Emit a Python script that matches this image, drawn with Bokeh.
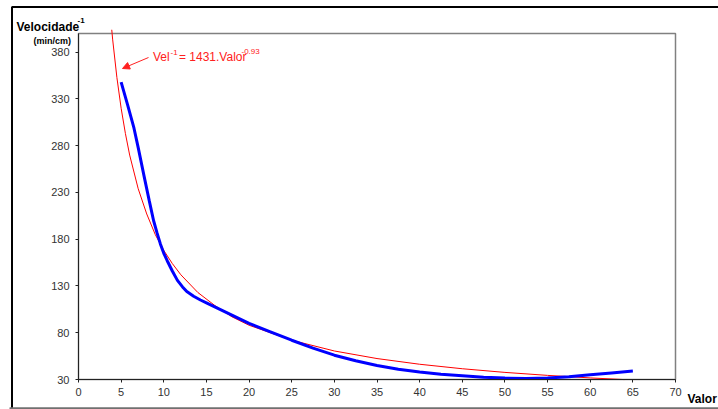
from bokeh.plotting import figure
from bokeh.models import Range1d, Label, Arrow, NormalHead, BoxAnnotation, FixedTicker, LinearAxis
from bokeh.embed import file_html
from bokeh.resources import INLINE

# Observed data (blue)
valor_obs = [5, 5.75, 6.5, 7, 7.7, 8.3, 8.8, 9.2, 9.6, 10, 10.4, 11, 11.6, 12.2, 12.7, 13.5, 14.3, 15,
             17.5, 20, 22.5, 25, 27.5, 30, 32.5, 35, 37.5, 40, 42.5, 45, 47.5, 50, 52.5, 55, 57.5, 60, 62.5, 65]
vel_obs = [348, 324, 299, 278, 247, 221, 200, 187, 175, 165, 157, 146, 136, 129, 124, 119, 115, 112,
           101, 90, 81, 72, 63.5, 56, 50, 45, 41, 38, 35.5, 34, 32.5, 31.5, 31, 31.5, 33, 35, 37, 39]

# Trend line (red)
valor_fit = [3.9, 4, 4.5, 5, 5.5, 6, 7, 8, 9, 10, 11, 12, 14, 16, 18, 20, 25, 30, 35, 40, 45, 50, 55, 60, 64]
vel_fit = [404, 394, 353, 320, 293, 270, 234, 207, 185, 168, 154, 142, 123, 109, 97, 88, 72, 60.5, 52.4, 46.3, 41.5, 37.6, 34.4, 31.7, 29.9]

x_ticks = list(range(0, 75, 5))
y_ticks = [30, 80, 130, 180, 230, 280, 330, 380]

X0, X1 = 0, 70      # plotted x extent
Y0, Y1 = 30, 400    # plotted y extent

W, H = 718, 409
# picture pixel positions of the inner plot area
PL, PR, PT, PB = 78, 675, 33, 379
SX = (PR - PL) / (X1 - X0)
SY = (PB - PT) / (Y1 - Y0)

def dx(px):
    return X0 + (px - PL) / SX

def dy(py):
    return Y0 + (PB - py) / SY

BL, BT = 9, 4  # canvas borders; frame covers the rest

p = figure(width=W, height=H, output_backend="svg", toolbar_location=None,
           x_range=Range1d(dx(BL), dx(W)), y_range=Range1d(dy(H), dy(BT)),
           x_axis_location=None, y_axis_location=None,
           min_border_left=BL, min_border_right=0, min_border_top=BT, min_border_bottom=0)
p.background_fill_color = "white"
p.border_fill_color = "white"
p.outline_line_color = None
p.xgrid.visible = False
p.ygrid.visible = False

xaxis = LinearAxis(fixed_location=Y0, bounds=(X0, X1), ticker=FixedTicker(ticks=x_ticks))
yaxis = LinearAxis(fixed_location=X0, bounds=(Y0, Y1), ticker=FixedTicker(ticks=y_ticks))
p.add_layout(xaxis, "below")
p.add_layout(yaxis, "left")

tick_font = "Liberation Sans Narrow, Arial Narrow, Liberation Sans"
for ax in (xaxis, yaxis):
    ax.axis_line_color = "#222222"
    ax.axis_line_width = 1
    ax.major_tick_line_color = "#222222"
    ax.major_tick_out = 3
    ax.major_tick_in = 0
    ax.minor_tick_line_color = None
    ax.major_label_text_font = tick_font
    ax.major_label_text_font_size = "11px"
    ax.major_label_text_color = "#333333"
xaxis.major_label_standoff = 5
yaxis.major_label_standoff = 6

# inner plot-area border (grey, top and right)
p.add_layout(BoxAnnotation(left=X0, right=X1, bottom=Y0, top=Y1, fill_alpha=0,
                           line_color="#808080", line_alpha=1, line_width=1.5, level="underlay"))

p.line(valor_fit, vel_fit, line_color="#FF0000", line_width=1)
p.line(valor_obs, vel_obs, line_color="#0000FF", line_width=3)

font = "Liberation Sans"
red = "#FF2020"

def lab(px, py, text, size, color="black", bold=False):
    p.add_layout(Label(x=dx(px), y=dy(py), text=text, text_font=font,
                       text_font_size=f"{size}px", text_color=color,
                       text_font_style="bold" if bold else "normal",
                       text_baseline="alphabetic", text_align="left"))

# equation annotation
lab(152.5, 56.5, "Vel", 12, red)
lab(170, 51.5, "-1", 8, red)
lab(178.5, 56.5, "= 1431.Valor", 12, red)
lab(241, 50.5, "-0.93", 8, red)
p.add_layout(Arrow(x_start=dx(148), y_start=dy(57), x_end=dx(122), y_end=dy(68),
                   line_color=red, line_width=1,
                   end=NormalHead(size=7, fill_color=red, line_color=red)))

# axis titles
lab(16, 26.5, "Velocidade", 12, bold=True)
lab(77, 20, "-1", 8, bold=True)
lab(33, 40.5, "(min/cm)", 9, bold=True)
lab(687, 398, "Valor", 12, bold=True)

# outer frame: black top/left, grey bottom
p.add_layout(BoxAnnotation(left=dx(11.5), top=dy(6.5), right=dx(W + 20), bottom=dy(H + 20),
                           fill_alpha=0, line_color="black", line_alpha=1, line_width=2))
p.add_layout(BoxAnnotation(top=dy(407.5), fill_alpha=0, line_color="#707070", line_alpha=1, line_width=1.5))

open("out.html", "w").write(file_html(p, INLINE))
